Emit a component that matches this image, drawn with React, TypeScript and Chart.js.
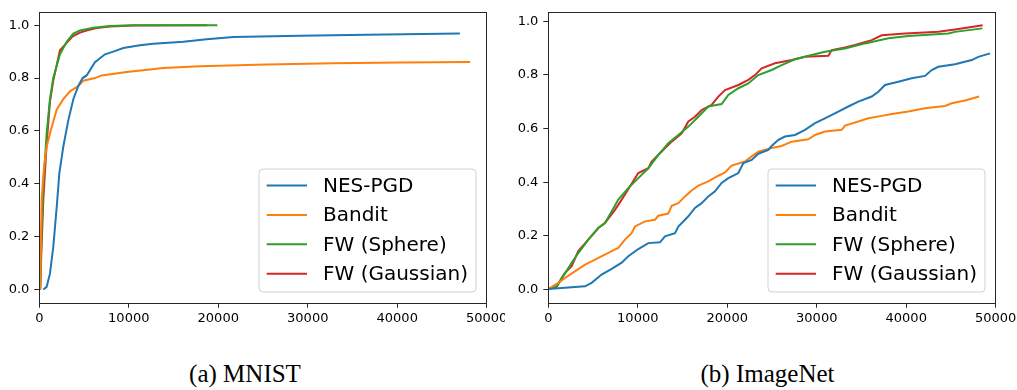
import React, { useEffect, useRef } from "react";
import { Chart, registerables } from "chart.js";

Chart.register(...registerables);

const SERIES_LABELS = ["NES-PGD", "Bandit", "FW (Sphere)", "FW (Gaussian)"];
const SERIES_COLORS = ["#1f77b4", "#ff7f0e", "#2ca02c", "#d62728"];
const X_TICKS = [0, 10000, 20000, 30000, 40000, 50000];
const Y_TICKS = [0.0, 0.2, 0.4, 0.6, 0.8, 1.0];
const CAPTIONS = ["(a) MNIST", "(b) ImageNet"];

// ---- MNIST (queries, success rate) ----
const MNIST_NES_X = [450, 820, 1190, 1560, 1940, 2240, 2680, 3240, 3800, 4360, 4840, 5290, 6220, 7340, 8270, 9390, 11250, 12740, 16100, 18700, 21700, 29100, 36600, 47000];
const MNIST_NES_Y = [0.0, 0.01, 0.06, 0.16, 0.31, 0.44, 0.54, 0.64, 0.72, 0.77, 0.8, 0.81, 0.86, 0.89, 0.9, 0.914, 0.924, 0.93, 0.937, 0.947, 0.955, 0.96, 0.964, 0.969];
const MNIST_BANDIT_X = [100, 260, 520, 820, 1190, 1940, 2680, 3430, 4360, 4920, 6220, 6970, 9760, 11600, 13860, 17960, 25400, 32900, 40300, 48150];
const MNIST_BANDIT_Y = [0.0, 0.34, 0.46, 0.54, 0.59, 0.68, 0.72, 0.75, 0.77, 0.79, 0.8, 0.81, 0.823, 0.83, 0.838, 0.845, 0.851, 0.856, 0.859, 0.861];
const MNIST_SPHERE_X = [100, 250, 450, 820, 1190, 1560, 2310, 3060, 3800, 4550, 6040, 7900, 10500, 19900];
const MNIST_SPHERE_Y = [0.0, 0.22, 0.4, 0.59, 0.72, 0.8, 0.89, 0.937, 0.968, 0.98, 0.99, 0.997, 1.0, 1.0];
const MNIST_GAUSS_X = [100, 270, 450, 820, 1190, 1560, 2310, 3060, 3730, 4550, 5290, 6410, 7900, 10500, 18780];
const MNIST_GAUSS_Y = [0.0, 0.18, 0.34, 0.55, 0.71, 0.79, 0.905, 0.933, 0.958, 0.972, 0.98, 0.989, 0.995, 0.999, 1.0];

// ---- ImageNet (queries, success rate) ----
const IMNET_NES_X = [0, 4100, 4840, 5960, 7080, 8200, 8940, 10060, 11180, 12480, 13040, 14160, 14530, 15650, 16390, 17140, 17880, 18630, 19370, 20120, 21240, 21800, 22730, 23470, 24590, 24960, 25710, 26450, 27570, 28690, 29810, 30920, 32410, 33530, 34650, 36140, 36890, 37630, 39120, 40610, 42100, 42850, 43590, 45450, 47320, 48060, 49370];
const IMNET_NES_Y = [0.002, 0.012, 0.025, 0.056, 0.077, 0.1, 0.124, 0.151, 0.173, 0.176, 0.198, 0.21, 0.235, 0.273, 0.304, 0.322, 0.347, 0.366, 0.397, 0.415, 0.434, 0.471, 0.483, 0.506, 0.52, 0.535, 0.558, 0.57, 0.576, 0.595, 0.62, 0.638, 0.663, 0.682, 0.7, 0.719, 0.737, 0.762, 0.774, 0.787, 0.796, 0.818, 0.83, 0.839, 0.855, 0.867, 0.88];
const IMNET_BANDIT_X = [0, 1120, 1860, 2980, 4100, 4840, 5590, 6330, 7080, 7820, 8570, 9310, 9690, 10810, 11920, 12300, 13410, 13790, 14530, 15280, 16020, 16770, 17880, 19000, 19750, 20490, 21980, 22730, 23470, 24960, 26080, 27200, 29060, 29810, 30920, 32790, 33160, 34650, 35770, 37260, 38380, 40240, 42100, 44340, 45080, 46570, 48140];
const IMNET_BANDIT_Y = [0.002, 0.025, 0.043, 0.068, 0.093, 0.105, 0.118, 0.13, 0.143, 0.155, 0.186, 0.21, 0.235, 0.254, 0.26, 0.275, 0.283, 0.312, 0.322, 0.347, 0.369, 0.387, 0.403, 0.424, 0.436, 0.462, 0.477, 0.496, 0.514, 0.527, 0.535, 0.551, 0.56, 0.576, 0.589, 0.595, 0.611, 0.626, 0.638, 0.647, 0.654, 0.663, 0.675, 0.684, 0.694, 0.704, 0.719];
const IMNET_SPHERE_X = [0, 930, 1680, 2610, 3350, 4470, 5590, 6330, 7080, 7820, 8940, 10060, 11180, 12300, 13410, 14530, 15650, 16770, 17880, 19370, 20120, 21240, 22350, 23470, 24960, 26080, 27570, 29430, 30920, 33160, 35400, 38010, 40240, 44710, 45450, 48510];
const IMNET_SPHERE_Y = [0.002, 0.012, 0.05, 0.1, 0.136, 0.186, 0.229, 0.248, 0.291, 0.335, 0.378, 0.415, 0.452, 0.502, 0.545, 0.576, 0.607, 0.644, 0.682, 0.691, 0.725, 0.75, 0.768, 0.799, 0.818, 0.836, 0.858, 0.874, 0.886, 0.898, 0.917, 0.936, 0.945, 0.954, 0.96, 0.973];
const IMNET_GAUSS_X = [0, 930, 1490, 1860, 2610, 3350, 4470, 5590, 6330, 7450, 8200, 8940, 10060, 11180, 11550, 12670, 13790, 14910, 15650, 16390, 17140, 18250, 19000, 19750, 21240, 22350, 23100, 23840, 25330, 27200, 28690, 31300, 31670, 33160, 34280, 36140, 37260, 39870, 43590, 45450, 48550];
const IMNET_GAUSS_Y = [0.002, 0.01, 0.043, 0.062, 0.087, 0.143, 0.186, 0.229, 0.248, 0.297, 0.335, 0.374, 0.434, 0.452, 0.477, 0.514, 0.551, 0.582, 0.626, 0.644, 0.669, 0.688, 0.719, 0.743, 0.762, 0.781, 0.799, 0.824, 0.843, 0.855, 0.867, 0.871, 0.892, 0.902, 0.911, 0.929, 0.947, 0.954, 0.96, 0.969, 0.985];

const zip = (xs: number[], ys: number[]) => xs.map((x, i) => ({ x, y: ys[i] }));

const FONT = "DejaVu Sans";
const AXIS_COLOR = "#262626";

const framePlugin = {
  id: "frameAndLegend",
  afterDraw(chart: any) {
    const { ctx, chartArea } = chart;
    ctx.save();
    ctx.strokeStyle = AXIS_COLOR;
    ctx.lineWidth = 1;
    ctx.strokeRect(
      Math.round(chartArea.left) + 0.5,
      Math.round(chartArea.top) + 0.5,
      Math.round(chartArea.right - chartArea.left),
      Math.round(chartArea.bottom - chartArea.top)
    );
    // legend, lower right
    const bw = 217, bh = 123, pad = 10.7;
    const bx = chartArea.right - pad - bw;
    const by = chartArea.bottom - pad - bh;
    ctx.beginPath();
    const r = 4;
    ctx.moveTo(bx + r, by);
    ctx.arcTo(bx + bw, by, bx + bw, by + bh, r);
    ctx.arcTo(bx + bw, by + bh, bx, by + bh, r);
    ctx.arcTo(bx, by + bh, bx, by, r);
    ctx.arcTo(bx, by, bx + bw, by, r);
    ctx.closePath();
    ctx.fillStyle = "rgba(255,255,255,0.8)";
    ctx.fill();
    ctx.strokeStyle = "rgba(204,204,204,0.9)";
    ctx.stroke();
    ctx.font = `20px "${FONT}"`;
    ctx.textBaseline = "middle";
    ctx.fillStyle = "#000";
    chart.data.datasets.forEach((ds: any, i: number) => {
      const y = by + 16.5 + i * 29.4;
      ctx.beginPath();
      ctx.strokeStyle = ds.borderColor;
      ctx.lineWidth = 2;
      ctx.moveTo(bx + 7.7, y);
      ctx.lineTo(bx + 48, y);
      ctx.stroke();
      ctx.fillText(ds.label, bx + 64, y + 1);
    });
    ctx.restore();
  },
};

function makeConfig(series: { x: number; y: number }[][], yMin: number, yMax: number, leftW: number, rightPad: number) {
  return {
    type: "line" as const,
    data: {
      datasets: series.map((d, i) => ({
        label: SERIES_LABELS[i],
        data: d,
        borderColor: SERIES_COLORS[i],
        backgroundColor: SERIES_COLORS[i],
        borderWidth: 2,
        pointRadius: 0,
        tension: 0,
        fill: false,
      })),
    },
    options: {
      animation: false,
      responsive: false,
      maintainAspectRatio: false,
      events: [],
      layout: { padding: { top: 12, right: rightPad, left: 0, bottom: 0 } },
      plugins: { legend: { display: false }, tooltip: { enabled: false } },
      scales: {
        x: {
          type: "linear",
          min: 0,
          max: 50000,
          border: { display: false },
          grid: { display: true, drawOnChartArea: false, drawTicks: true, tickLength: 5, color: AXIS_COLOR },
          ticks: { font: { family: FONT, size: 13 }, color: "#000", padding: 3, maxRotation: 0, callback: (v: any) => String(v) },
          afterBuildTicks: (s: any) => { s.ticks = X_TICKS.map((v) => ({ value: v })); },
          afterFit: (s: any) => { s.height = 37.3; s.paddingLeft = 0; s.paddingRight = 0; },
        },
        y: {
          type: "linear",
          min: yMin,
          max: yMax,
          border: { display: false },
          grid: { display: true, drawOnChartArea: false, drawTicks: true, tickLength: 5, color: AXIS_COLOR },
          ticks: { font: { family: FONT, size: 13 }, color: "#000", padding: 5, callback: (v: any) => Number(v).toFixed(1) },
          afterBuildTicks: (s: any) => { s.ticks = Y_TICKS.map((v) => ({ value: v })); },
          afterFit: (s: any) => { s.width = leftW; s.paddingTop = 0; s.paddingBottom = 0; },
        },
      },
    },
    plugins: [framePlugin],
  };
}

function Panel(props: { left: number; width: number; series: { x: number; y: number }[][]; yMin: number; yMax: number; leftW: number; rightPad: number }) {
  const ref = useRef<HTMLCanvasElement | null>(null);
  useEffect(() => {
    if (!ref.current) return;
    const chart = new Chart(ref.current, makeConfig(props.series, props.yMin, props.yMax, props.leftW, props.rightPad) as any);
    return () => chart.destroy();
  }, []);
  return (
    <canvas
      ref={ref}
      width={props.width}
      height={340}
      style={{ position: "absolute", left: props.left, top: 0, width: props.width, height: 340 }}
    />
  );
}

export default function App() {
  const mnist = [zip(MNIST_NES_X, MNIST_NES_Y), zip(MNIST_BANDIT_X, MNIST_BANDIT_Y), zip(MNIST_SPHERE_X, MNIST_SPHERE_Y), zip(MNIST_GAUSS_X, MNIST_GAUSS_Y)];
  const imnet = [zip(IMNET_NES_X, IMNET_NES_Y), zip(IMNET_BANDIT_X, IMNET_BANDIT_Y), zip(IMNET_SPHERE_X, IMNET_SPHERE_Y), zip(IMNET_GAUSS_X, IMNET_GAUSS_Y)];
  const capStyle: React.CSSProperties = {
    position: "absolute",
    top: 361,
    width: 300,
    textAlign: "center",
    fontFamily: '"Liberation Serif", serif',
    fontSize: 25,
    lineHeight: "25px",
    color: "#000",
    whiteSpace: "nowrap",
  };
  return (
    <div style={{ position: "absolute", left: 0, top: 0, width: 1017, height: 390, background: "#fff", overflow: "hidden" }}>
      <Panel left={0} width={505} series={mnist} yMin={-0.05} yMax={1.05} leftW={39.3} rightPad={18.3} />
      <Panel left={505} width={512} series={imnet} yMin={-0.049} yMax={1.034} leftW={43.3} rightPad={21.3} />
      <div style={{ ...capStyle, left: 245 - 150 }}>{CAPTIONS[0]}</div>
      <div style={{ ...capStyle, left: 767.5 - 150 }}>{CAPTIONS[1]}</div>
    </div>
  );
}
